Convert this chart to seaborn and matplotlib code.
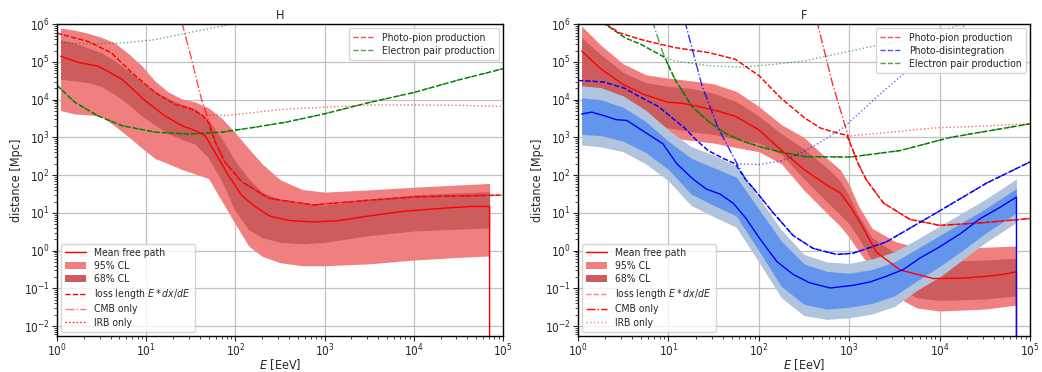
import numpy as np
import matplotlib
matplotlib.use("Agg")
import matplotlib.pyplot as plt
import seaborn as sns
from matplotlib.lines import Line2D
from matplotlib.patches import Patch
from matplotlib.ticker import FixedLocator, LogLocator, NullFormatter

# ---------------- data (log10 E [EeV], log10 distance [Mpc]) ----------------
# Panel H : photo-pion + pair production
H_BAND_LOGE = [0.04, 0.2, 0.35, 0.5, 0.65, 0.8, 0.95, 1.1, 1.25, 1.4, 1.55, 1.7, 1.85, 2.0, 2.15, 2.3, 2.5, 2.75, 3.0, 3.5, 4.0, 4.5, 4.85]
H_95_HI = [5.90, 5.84, 5.76, 5.65, 5.50, 5.22, 4.90, 4.49, 4.20, 4.02, 3.94, 3.78, 3.50, 3.12, 2.70, 2.30, 1.88, 1.62, 1.55, 1.61, 1.68, 1.74, 1.78]
H_95_LO = [3.71, 3.62, 3.60, 3.55, 3.30, 3.02, 2.72, 2.44, 2.30, 2.15, 2.03, 1.91, 1.30, 0.70, 0.12, -0.15, -0.32, -0.40, -0.40, -0.35, -0.25, -0.18, -0.14]
H_68_HI = [5.59, 5.50, 5.37, 5.24, 5.03, 4.76, 4.47, 4.22, 4.03, 3.88, 3.76, 3.45, 2.96, 2.37, 1.90, 1.55, 1.35, 1.24, 1.21, 1.35, 1.48, 1.53, 1.56]
H_68_LO = [4.54, 4.50, 4.45, 4.35, 4.13, 3.88, 3.57, 3.32, 3.10, 2.95, 2.82, 2.45, 1.83, 1.04, 0.55, 0.35, 0.22, 0.18, 0.22, 0.40, 0.52, 0.57, 0.60]

H_MFP_LOGE = [0.04, 0.25, 0.46, 0.73, 0.99, 1.21, 1.40, 1.55, 1.66, 1.77, 1.92, 2.07, 2.2, 2.39, 2.6, 2.87, 3.14, 3.5, 3.88, 4.3, 4.63, 4.85, 4.85]
H_MFP = [5.15, 4.98, 4.89, 4.54, 3.97, 3.57, 3.31, 3.18, 3.05, 2.61, 2.0, 1.47, 1.2, 0.91, 0.80, 0.76, 0.79, 0.92, 1.04, 1.12, 1.17, 1.17, -10]

H_LOSS_LOGE = [0.0, 0.35, 0.61, 0.84, 1.10, 1.32, 1.51, 1.62, 1.68, 1.78, 1.88, 2.07, 2.37, 2.87, 3.51, 4.07, 5.0]
H_LOSS = [5.76, 5.54, 5.24, 4.71, 4.19, 3.88, 3.75, 3.60, 3.48, 2.85, 2.35, 1.83, 1.39, 1.21, 1.34, 1.43, 1.47]
H_CMB_LOGE = [1.40, 1.51, 1.62, 1.70, 1.78, 1.88, 2.07, 2.37, 2.87, 3.51, 4.07, 5.0]
H_CMB = [6.05, 5.06, 4.01, 3.45, 2.85, 2.35, 1.83, 1.39, 1.21, 1.34, 1.43, 1.47]
H_IRB_LOGE = [0.0, 0.35, 0.61, 0.84, 1.10, 1.32, 1.51, 1.62, 1.92, 2.39, 2.56, 3.0, 3.51, 4.0, 4.5, 5.0]
H_IRB = [5.76, 5.54, 5.24, 4.71, 4.19, 3.88, 3.75, 3.60, 3.58, 3.71, 3.75, 3.80, 3.86, 3.86, 3.85, 3.82]
H_PAIR_LOGE = [0.0, 0.2, 0.46, 0.73, 1.10, 1.47, 1.85, 2.22, 2.56, 2.99, 3.51, 4.0, 4.5, 5.0]
H_PAIR = [4.38, 3.93, 3.57, 3.31, 3.14, 3.09, 3.14, 3.27, 3.40, 3.62, 3.93, 4.19, 4.52, 4.82]
H_PAIR_IRB_LOGE = [0.0, 0.35, 0.73, 1.10, 1.55, 1.96, 2.1]
H_PAIR_IRB = [5.52, 5.48, 5.50, 5.59, 5.81, 6.0, 6.08]

# Panel F : photo-pion (red), photo-disintegration (blue), pair production (green)
F_PION_BAND_LOGE = [0.04, 0.25, 0.5, 0.75, 1.0, 1.25, 1.5, 1.75, 2.0, 2.25, 2.5, 2.75, 2.9, 3.0, 3.1, 3.25, 3.5, 3.75, 4.0, 4.5, 4.85]
F_PION_95_HI = [5.95, 5.45, 4.95, 4.66, 4.57, 4.50, 4.42, 4.22, 3.82, 3.34, 3.0, 2.45, 2.15, 1.75, 1.2, 0.6, 0.25, 0.08, 0.05, 0.09, 0.12]
F_PION_95_LO = [3.9, 3.7, 3.45, 3.2, 3.0, 2.92, 2.85, 2.73, 2.62, 2.3, 1.6, 1.0, 0.65, 0.35, 0.0, -0.5, -1.2, -1.52, -1.6, -1.55, -1.44]
F_PION_68_HI = [5.65, 5.2, 4.72, 4.45, 4.35, 4.3, 4.17, 3.95, 3.57, 3.1, 2.7, 2.2, 1.85, 1.45, 0.95, 0.35, -0.05, -0.22, -0.28, -0.25, -0.2]
F_PION_68_LO = [4.3, 4.1, 3.8, 3.5, 3.25, 3.15, 3.08, 2.95, 2.85, 2.55, 1.9, 1.3, 0.95, 0.7, 0.35, -0.25, -0.95, -1.25, -1.32, -1.28, -1.2]
F_PION_MFP_LOGE = [0.04, 0.25, 0.5, 0.75, 1.0, 1.13, 1.25, 1.5, 1.75, 2.0, 2.25, 2.5, 2.75, 2.9, 3.01, 3.12, 3.3, 3.56, 3.93, 4.25, 4.48, 4.7, 4.85, 4.85]
F_PION_MFP = [5.29, 4.82, 4.40, 4.12, 3.93, 3.91, 3.86, 3.73, 3.55, 3.2, 2.66, 2.15, 1.74, 1.53, 1.18, 0.75, -0.04, -0.51, -0.74, -0.73, -0.69, -0.63, -0.56, -10]
F_PION_LOSS_LOGE = [0.31, 0.46, 0.70, 1.07, 1.44, 1.74, 2.0, 2.25, 2.51, 2.68, 2.86, 2.97, 3.01, 3.1, 3.19, 3.38, 3.67, 4.0, 4.48, 5.0]
F_PION_LOSS = [6.0, 5.77, 5.59, 5.38, 5.25, 5.07, 4.64, 4.03, 3.51, 3.25, 3.12, 3.06, 2.85, 2.3, 1.87, 1.26, 0.83, 0.67, 0.74, 0.85]
F_PION_CMB_LOGE = [2.64, 2.82, 2.93, 3.01, 3.1, 3.19, 3.38, 3.67, 4.0, 4.48, 5.0]
F_PION_CMB = [6.1, 4.38, 3.51, 2.85, 2.3, 1.87, 1.26, 0.83, 0.67, 0.74, 0.85]
F_PION_IRB_LOGE = [0.31, 0.46, 0.70, 1.07, 1.44, 1.74, 2.0, 2.25, 2.51, 2.68, 2.86, 2.97, 3.01, 3.38, 3.93, 4.48, 5.0]
F_PION_IRB = [6.0, 5.77, 5.59, 5.38, 5.25, 5.07, 4.64, 4.03, 3.51, 3.25, 3.12, 3.06, 3.04, 3.12, 3.25, 3.30, 3.36]

F_DIS_BAND_LOGE = [0.04, 0.25, 0.5, 0.75, 1.0, 1.25, 1.5, 1.75, 2.0, 2.25, 2.5, 2.75, 3.0, 3.25, 3.5, 3.75, 4.0, 4.25, 4.5, 4.85]
F_DIS_95_HI = [4.37, 4.32, 4.1, 3.72, 3.2, 2.76, 2.53, 2.25, 1.4, 0.55, -0.1, -0.3, -0.34, -0.22, -0.03, 0.3, 0.65, 1.0, 1.35, 1.9]
F_DIS_95_LO = [2.8, 2.75, 2.62, 2.3, 1.85, 1.2, 0.9, 0.62, -0.3, -1.25, -1.72, -1.82, -1.78, -1.68, -1.48, -1.05, -0.7, -0.25, 0.2, 0.75]
F_DIS_68_HI = [4.05, 4.0, 3.8, 3.42, 2.9, 2.45, 2.2, 1.95, 1.1, 0.25, -0.35, -0.55, -0.6, -0.5, -0.3, 0.05, 0.4, 0.75, 1.1, 1.65]
F_DIS_68_LO = [3.08, 3.05, 2.9, 2.6, 2.15, 1.5, 1.2, 0.92, 0.0, -0.95, -1.42, -1.55, -1.5, -1.4, -1.2, -0.8, -0.42, 0.0, 0.45, 1.0]
F_DIS_MFP_LOGE = [0.04, 0.15, 0.31, 0.42, 0.54, 0.72, 0.94, 1.09, 1.27, 1.42, 1.57, 1.72, 1.86, 2.01, 2.2, 2.38, 2.56, 2.79, 3.04, 3.23, 3.41, 3.6, 3.78, 4.0, 4.23, 4.45, 4.67, 4.85, 4.85]
F_DIS_MFP = [3.62, 3.67, 3.56, 3.47, 3.45, 3.17, 2.83, 2.31, 1.9, 1.63, 1.5, 1.25, 0.85, 0.32, -0.29, -0.63, -0.85, -0.99, -0.92, -0.83, -0.68, -0.5, -0.2, 0.1, 0.45, 0.85, 1.15, 1.42, -10]
F_DIS_LOSS_LOGE = [0.0, 0.28, 0.52, 0.65, 0.89, 1.05, 1.18, 1.30, 1.44, 1.60, 1.74, 1.85, 1.94, 2.16, 2.38, 2.6, 2.86, 3.04, 3.41, 3.97, 4.52, 5.0]
F_DIS_LOSS = [4.51, 4.47, 4.30, 4.12, 3.82, 3.5, 3.25, 2.95, 2.65, 2.45, 2.3, 1.9, 1.65, 1.0, 0.4, 0.06, -0.1, -0.07, 0.23, 1.01, 1.79, 2.35]
F_DIS_CMB_LOGE = [1.18, 1.37, 1.55, 1.74, 1.85, 1.94, 2.16, 2.38, 2.6, 2.86, 3.04, 3.41, 3.97, 4.52, 5.0]
F_DIS_CMB = [6.1, 4.38, 3.25, 2.39, 1.9, 1.65, 1.0, 0.4, 0.06, -0.1, -0.07, 0.23, 1.01, 1.79, 2.35]
F_DIS_IRB_LOGE = [0.0, 0.28, 0.52, 0.65, 0.89, 1.05, 1.18, 1.30, 1.44, 1.60, 1.74, 2.0, 2.25, 2.46, 2.68, 2.93, 3.37, 3.75, 4.22, 4.32]
F_DIS_IRB = [4.51, 4.47, 4.30, 4.12, 3.82, 3.5, 3.25, 2.95, 2.65, 2.45, 2.3, 2.28, 2.38, 2.58, 2.87, 3.25, 4.21, 4.99, 5.85, 6.05]

F_PAIR_LOGE = [0.27, 0.52, 0.70, 0.96, 1.07, 1.26, 1.44, 1.62, 1.81, 2.03, 2.25, 2.51, 3.01, 3.56, 4.12, 5.0]
F_PAIR = [6.05, 5.64, 5.46, 5.12, 4.55, 3.82, 3.43, 3.12, 2.91, 2.74, 2.61, 2.49, 2.48, 2.65, 3.0, 3.36]
F_PAIR_CMB_LOGE = [0.82, 0.89, 0.96, 1.07, 1.26, 1.44, 1.62, 1.81, 2.03, 2.25, 2.51, 3.01, 3.56, 4.12, 5.0]
F_PAIR_CMB = [6.11, 5.59, 5.1, 4.55, 3.82, 3.43, 3.12, 2.91, 2.74, 2.61, 2.49, 2.48, 2.65, 3.0, 3.36]
F_PAIR_IRB_LOGE = [0.27, 0.52, 0.70, 0.96, 1.07, 1.44, 1.81, 2.18, 2.51, 3.19, 3.75, 4.3]
F_PAIR_IRB = [6.05, 5.64, 5.46, 5.12, 5.03, 4.9, 4.86, 4.94, 5.03, 5.38, 5.64, 6.03]

TITLES = ["H", "F"]
XLABEL = "$E$ [EeV]"
YLABEL = "distance [Mpc]"
X_DECADES = [1e0, 1e1, 1e2, 1e3, 1e4, 1e5]
Y_DECADES = [1e-2, 1e-1, 1e0, 1e1, 1e2, 1e3, 1e4, 1e5, 1e6]

# ---------------- style ----------------
sns.set_style("ticks")
plt.rcParams.update({
    "font.family": ["DejaVu Sans"],
    "font.stretch": "condensed",
    "font.size": 9,
    "axes.linewidth": 1.0,
    "axes.edgecolor": "black",
    "xtick.direction": "out",
    "ytick.direction": "out",
    "xtick.major.size": 3.5,
    "ytick.major.size": 3.5,
    "xtick.minor.size": 2,
    "ytick.minor.size": 2,
    "legend.fontsize": 7.5,
})

L95_RED, L68_RED = "#f08080", "#cd5c5c"
L95_BLUE, L68_BLUE = "#b0c4de", "#6495ed"
RED, GREEN, BLUE = "#ff0000", "#008000", "#0000ff"


def P(v):
    return np.power(10.0, np.asarray(v, dtype=float))


def line(ax, loge, logd, **kw):
    sns.lineplot(x=P(loge), y=P(logd), ax=ax, sort=False, estimator=None,
                 legend=False, **kw)


def band(ax, loge, lo, hi, color):
    ax.fill_between(P(loge), P(lo), P(hi), color=color, lw=0)


fig = plt.figure(figsize=(10.42, 3.72), dpi=100)
axH = fig.add_axes([0.0547, 0.097, 0.428, 0.838])
axF = fig.add_axes([0.5547, 0.097, 0.4338, 0.838])

for ax in (axH, axF):
    ax.set_xscale("log")
    ax.set_yscale("log")

# ---- panel H ----
band(axH, H_BAND_LOGE, H_95_LO, H_95_HI, L95_RED)
band(axH, H_BAND_LOGE, H_68_LO, H_68_HI, L68_RED)
line(axH, H_PAIR_IRB_LOGE, H_PAIR_IRB, color=GREEN, linestyle=":", lw=1, alpha=0.6)
line(axH, H_PAIR_LOGE, H_PAIR, color=GREEN, linestyle="--", lw=1)
line(axH, H_PAIR_LOGE, H_PAIR, color=GREEN, linestyle="-.", lw=1, alpha=0.6)
line(axH, H_IRB_LOGE, H_IRB, color=RED, linestyle=":", lw=1, alpha=0.6)
line(axH, H_CMB_LOGE, H_CMB, color=RED, linestyle="-.", lw=1, alpha=0.7)
line(axH, H_LOSS_LOGE, H_LOSS, color=RED, linestyle="--", lw=1)
line(axH, H_MFP_LOGE, H_MFP, color=RED, linestyle="-", lw=1)

# ---- panel F ----
band(axF, F_PION_BAND_LOGE, F_PION_95_LO, F_PION_95_HI, L95_RED)
band(axF, F_PION_BAND_LOGE, F_PION_68_LO, F_PION_68_HI, L68_RED)
band(axF, F_DIS_BAND_LOGE, F_DIS_95_LO, F_DIS_95_HI, L95_BLUE)
band(axF, F_DIS_BAND_LOGE, F_DIS_68_LO, F_DIS_68_HI, L68_BLUE)
line(axF, F_PAIR_IRB_LOGE, F_PAIR_IRB, color=GREEN, linestyle=":", lw=1, alpha=0.6)
line(axF, F_PAIR_CMB_LOGE, F_PAIR_CMB, color=GREEN, linestyle="-.", lw=1, alpha=0.7)
line(axF, F_PAIR_LOGE, F_PAIR, color=GREEN, linestyle="--", lw=1)
line(axF, F_PION_IRB_LOGE, F_PION_IRB, color=RED, linestyle=":", lw=1, alpha=0.6)
line(axF, F_PION_CMB_LOGE, F_PION_CMB, color=RED, linestyle="-.", lw=1, alpha=0.8)
line(axF, F_PION_LOSS_LOGE, F_PION_LOSS, color=RED, linestyle="--", lw=1)
line(axF, F_DIS_IRB_LOGE, F_DIS_IRB, color=BLUE, linestyle=":", lw=1, alpha=0.6)
line(axF, F_DIS_CMB_LOGE, F_DIS_CMB, color=BLUE, linestyle="-.", lw=1, alpha=0.8)
line(axF, F_DIS_LOSS_LOGE, F_DIS_LOSS, color=BLUE, linestyle="--", lw=1)
line(axF, F_PION_MFP_LOGE, F_PION_MFP, color=RED, linestyle="-", lw=1)
line(axF, F_DIS_MFP_LOGE, F_DIS_MFP, color=BLUE, linestyle="-", lw=1)

for ax, title in zip((axH, axF), TITLES):
    ax.set_xlim(1, 1e5)
    ax.set_ylim(5.5e-3, 1e6)
    ax.xaxis.set_major_locator(FixedLocator(X_DECADES))
    ax.yaxis.set_major_locator(FixedLocator(Y_DECADES))
    ax.xaxis.set_minor_locator(LogLocator(base=10, subs=np.arange(2, 10), numticks=20))
    ax.yaxis.set_minor_locator(LogLocator(base=10, subs=np.arange(2, 10), numticks=20))
    ax.xaxis.set_minor_formatter(NullFormatter())
    ax.yaxis.set_minor_formatter(NullFormatter())
    ax.set_title(title, fontsize=9, pad=4)
    ax.set_xlabel(XLABEL, fontsize=9, labelpad=-1.5)
    ax.set_ylabel(YLABEL, fontsize=9, labelpad=1)
    ax.tick_params(labelsize=8.5, pad=1.5)
    ax.grid(True, which="major", color="#c0c0c0", lw=0.9)
    ax.grid(False, which="minor")
    for s in ax.spines.values():
        s.set_visible(True)
        s.set_color("black")

# ---- legends ----
def lower_handles(loss_a, cmb_a, irb_a):
    return [
        Line2D([], [], color=RED, lw=1, ls="-"),
        Patch(facecolor=L95_RED, edgecolor="none"),
        Patch(facecolor=L68_RED, edgecolor="none"),
        Line2D([], [], color=RED, lw=1, ls="--", alpha=loss_a),
        Line2D([], [], color=RED, lw=1, ls="-.", alpha=cmb_a),
        Line2D([], [], color=RED, lw=1, ls=":", alpha=irb_a),
    ]

LOWER_LABELS = ["Mean free path", "95% CL", "68% CL", "loss length $E*dx/dE$", "CMB only", "IRB only"]
LEGKW = dict(fontsize=7.5, labelspacing=0.3, borderaxespad=0.4, handletextpad=0.8)

legH2 = axH.legend(lower_handles(1.0, 0.5, 1.0), LOWER_LABELS, loc="lower left", **LEGKW)
axH.add_artist(legH2)
axH.legend([Line2D([], [], color=RED, lw=1, ls="--", alpha=0.7),
            Line2D([], [], color=GREEN, lw=1, ls="--", alpha=0.7)],
           ["Photo-pion production", "Electron pair production"],
           loc="upper right", **LEGKW)

legF2 = axF.legend(lower_handles(0.5, 1.0, 0.5), LOWER_LABELS, loc="lower left", **LEGKW)
axF.add_artist(legF2)
axF.legend([Line2D([], [], color=RED, lw=1, ls="--", alpha=0.7),
            Line2D([], [], color=BLUE, lw=1, ls="--", alpha=0.7),
            Line2D([], [], color=GREEN, lw=1, ls="--", alpha=0.7)],
           ["Photo-pion production", "Photo-disintegration", "Electron pair production"],
           loc="upper right", **LEGKW)

fig.savefig("out.png", dpi=100)
